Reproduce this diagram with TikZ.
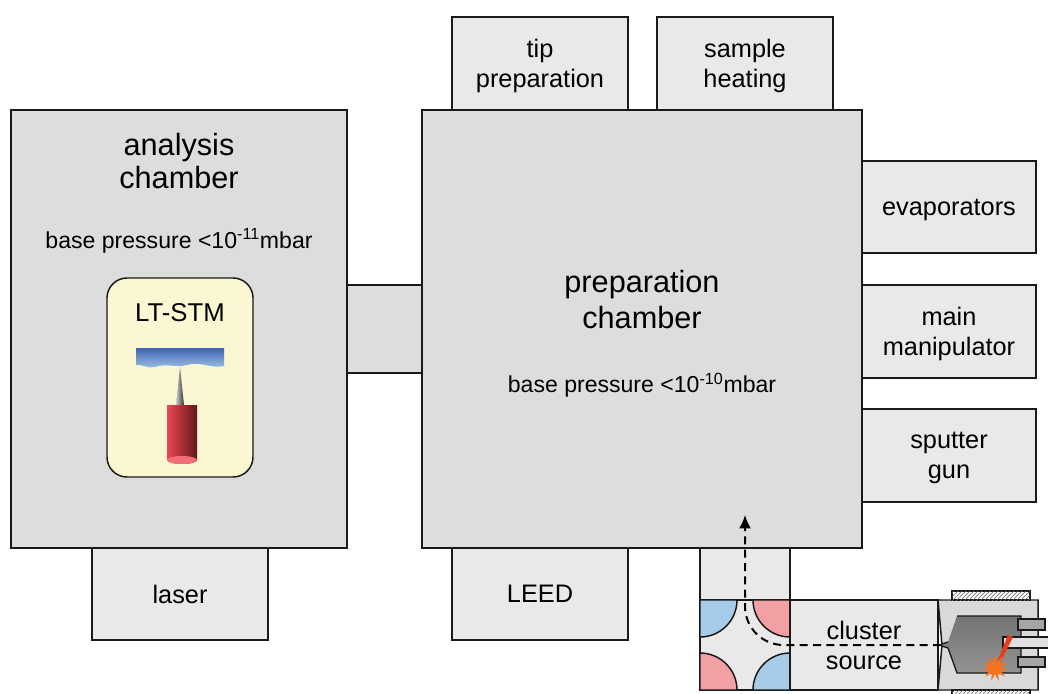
\documentclass[tikz,border=0pt]{standalone}
\usepackage{fontspec}
\setmainfont{Liberation Sans}
\usetikzlibrary{arrows.meta,shapes.geometric,patterns}
\definecolor{wall}{RGB}{221,221,221}
\definecolor{portgray}{RGB}{233,233,233}
\definecolor{stmbg}{RGB}{250,247,210}
\definecolor{sampletop}{RGB}{62,98,175}
\definecolor{samplebot}{RGB}{160,196,232}
\definecolor{cylred}{RGB}{238,70,84}
\definecolor{cyldark}{RGB}{95,25,25}
\definecolor{cylpink}{RGB}{242,110,120}
\definecolor{quadblue}{RGB}{166,204,234}
\definecolor{quadpink}{RGB}{242,160,164}
\definecolor{laserred}{RGB}{232,60,30}
\definecolor{flash}{RGB}{245,115,30}
\begin{document}
\begin{tikzpicture}[x=0.75pt,y=-0.75pt,
 chamber/.style={draw=black!90,line width=1.1pt,fill=wall,inner sep=0pt},
 port/.style={chamber,fill=portgray,align=center,text depth=-3pt,font=\fontsize{19}{22.5}\selectfont},
 title/.style={align=center,font=\fontsize{23}{27}\selectfont},
 note/.style={font=\fontsize{17.3}{20}\selectfont},
 stm/.style={draw=black!90,line width=1.1pt,fill=stmbg,rounded corners=15pt,inner sep=0pt},
 beam/.style={dash pattern=on 6pt off 4pt,line width=1.5pt,rounded corners=29pt,-{Latex[length=10pt,width=9pt]}}]
\useasboundingbox (0,0) rectangle (1048,693);

\node[port,minimum width=132pt,minimum height=69.75pt] (tip) at (540,63.5) {tip\\preparation};
\node[port,minimum width=132pt,minimum height=69.75pt] (heat) at (745,63.5) {sample\\heating};
\node[port,minimum width=130.5pt,minimum height=69pt] (evap) at (949,207) {evaporators};
\node[port,minimum width=130.5pt,minimum height=69.75pt] (manip) at (949,331.5) {main\\manipulator};
\node[port,minimum width=130.5pt,minimum height=69.75pt] (sputter) at (949,455.5) {sputter\\gun};
\node[port,minimum width=132pt,minimum height=69pt] (laser) at (180,594) {laser};
\node[port,minimum width=132pt,minimum height=69pt] (leed) at (540,594) {LEED};
\node[port,minimum width=56.25pt,minimum height=66pt,fill=wall] (link) at (384.5,329) {};
\node[port,minimum width=67.5pt,minimum height=39pt] (tube) at (745,574) {};

\node[chamber,minimum width=252pt,minimum height=328.5pt] (ana) at (179,329) {};
\node[chamber,minimum width=330pt,minimum height=328.5pt] (prep) at (642,329) {};
\node[title,font=\fontsize{23}{24.75}\selectfont] (anatitle) at (179,161.5) {analysis\\chamber};
\node[note] (anap) at (179,241) {base pressure <10\textsuperscript{-11}mbar};
\node[title] (preptitle) at (642,300) {preparation\\chamber};
\node[note] (prepp) at (642,385) {base pressure <10\textsuperscript{-10}mbar};

\node[stm,minimum width=109.5pt,minimum height=149.25pt] (stmbox) at (180,377.5) {};
\node[font=\fontsize{19.3}{22}\selectfont] (stmlab) at (180,313) {LT-STM};
\shade[top color=sampletop,bottom color=samplebot] (136,348) -- (224,348) -- (224,366) .. controls (212,369) and (200,361) .. (187,365) .. controls (176,368) and (166,363) .. (155,367) .. controls (148,369) and (142,364) .. (136,365) -- cycle;
\shade[left color=black!20,right color=black!80] (180,367) -- (184,405) -- (176,405) -- cycle;
\shade[left color=cylred,right color=cyldark] (167,405) -- (167,460) arc[start angle=180,end angle=0,x radius=15,y radius=4] -- (197,405) -- cycle;
\fill[cylpink] (182,460) ellipse[x radius=15,y radius=4];

\node[port,minimum width=67.5pt,minimum height=67.5pt] (quad) at (745,645) {};
\filldraw[fill=quadblue,draw=black!90,line width=1.1pt] (700,600) -- (737,600) arc[start angle=0,end angle=90,radius=37] -- cycle;
\filldraw[fill=quadpink,draw=black!90,line width=1.1pt] (790,600) -- (753,600) arc[start angle=180,end angle=90,radius=37] -- cycle;
\filldraw[fill=quadpink,draw=black!90,line width=1.1pt] (700,690) -- (737,690) arc[start angle=0,end angle=-90,radius=37] -- cycle;
\filldraw[fill=quadblue,draw=black!90,line width=1.1pt] (790,690) -- (753,690) arc[start angle=180,end angle=270,radius=37] -- cycle;
\node[port,minimum width=111pt,minimum height=67.5pt,text depth=] (source) at (864,645) {cluster\\source};

\filldraw[fill=black!15,draw=black!90,line width=1.1pt] (938,600) -- (1038,600) -- (1038,690) -- (938,690) -- (942,645) -- cycle;
\filldraw[fill=white,draw=black!90,line width=0.8pt] (952,591) rectangle (1030,600);
\fill[pattern=north east lines,pattern color=black!60] (952,591) rectangle (1030,600);
\filldraw[fill=white,draw=black!90,line width=0.8pt] (952,690) rectangle (1030,700);
\fill[pattern=north east lines,pattern color=black!60] (952,690) rectangle (1030,700);
\shade[top color=black!55,middle color=black!12,bottom color=black!42] (957,616) -- (1021,616) -- (1021,673) -- (957,673) -- (948,648) -- (942,646) -- (942,644) -- (948,642) -- cycle;
\draw[black!90,line width=1pt] (957,616) -- (1021,616) -- (1021,673) -- (957,673) -- (948,648) -- (942,646) (942,644) -- (948,642) -- cycle;
\filldraw[fill=black!35,draw=black!90,line width=0.9pt] (1018,619) rectangle (1045,630);
\filldraw[fill=black!12,draw=black!90,line width=0.9pt] (1003,637) rectangle (1052,648);
\filldraw[fill=black!35,draw=black!90,line width=0.9pt] (1018,657) rectangle (1045,667);
\fill[laserred] (1008,635) -- (1013,637) -- (999,665) -- (996,664) -- cycle;
\node[star,star points=11,star point ratio=2.2,fill=flash,minimum size=20pt,inner sep=0pt] (spark) at (995,668) {};

\coordinate (nozzle) at (941,645);
\coordinate (target) at (745,515);
\draw[beam] (nozzle) -| (target);
\end{tikzpicture}
\end{document}
